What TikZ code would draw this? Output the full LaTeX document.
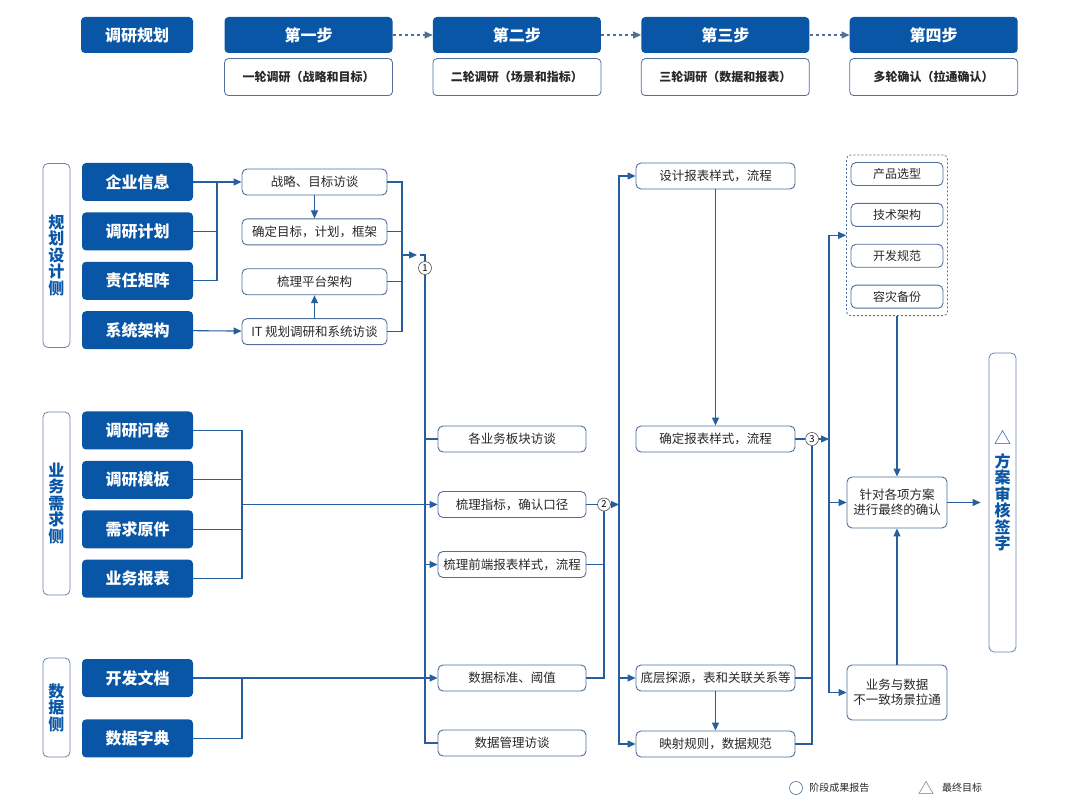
\documentclass[tikz,border=0pt]{standalone}
\usepackage{fontspec}
\setmainfont{Noto Sans CJK SC}
\usetikzlibrary{arrows.meta, positioning, fit}
\definecolor{deepblue}{RGB}{10,86,166}
\definecolor{linkblue}{RGB}{38,94,158}
\definecolor{edgeblue}{RGB}{80,112,155}
\definecolor{textgray}{RGB}{40,40,40}

\begin{document}
\begin{tikzpicture}[
    x=1pt, y=-1pt,
    node distance=11pt,
    darkbox/.style={rectangle, fill=deepblue, text=white, minimum width=111pt, minimum height=38pt, inner sep=2pt, rounded corners=4pt, font=\fontsize{16}{18}\selectfont\bfseries},
    stepbox/.style={darkbox, minimum width=168pt, minimum height=36pt},
    subbox/.style={rectangle, draw=edgeblue, fill=white, text=textgray, minimum width=168pt, minimum height=37pt, inner sep=2pt, rounded corners=4pt, line width=0.8pt, font=\fontsize{12}{14}\selectfont\bfseries},
    lightbox/.style={rectangle, draw=edgeblue, fill=white, text=textgray, minimum height=26pt, inner sep=2pt, rounded corners=5pt, line width=0.9pt, align=center, font=\fontsize{12.5}{15}\selectfont},
    sidebox/.style={rectangle, draw=edgeblue!85, text=deepblue, minimum width=27pt, inner sep=1pt, rounded corners=5pt, line width=0.8pt, align=center, font=\fontsize{16}{16.5}\selectfont\bfseries},
    stage/.style={circle, draw=textgray!80, fill=white, minimum size=13pt, inner sep=0pt, line width=0.6pt, font=\fontsize{9.5}{9.5}\selectfont},
    arrow/.style={-{Triangle[length=8pt,width=7pt]}, line width=1.1pt, linkblue},
    link/.style={line width=1.1pt, linkblue},
    dasharrow/.style={arrow, edgeblue, dash pattern=on 3pt off 3pt}
]

\fill[white] (0,0) rectangle (1080,810);
\useasboundingbox (0,0) rectangle (1080,810);

\node[darkbox, minimum width=112pt, minimum height=36pt] (plan) at (137,35) {调研规划};
\node[stepbox] (step1) at (308.5,35) {第一步};
\node[stepbox, right=40pt of step1] (step2) {第二步};
\node[stepbox, right=40pt of step2] (step3) {第三步};
\node[stepbox, right=40pt of step3] (step4) {第四步};
\node[subbox, below=5pt of step1] (round1) {一轮调研（战略和目标）};
\node[subbox, below=5pt of step2] (round2) {二轮调研（场景和指标）};
\node[subbox, below=5pt of step3] (round3) {三轮调研（数据和报表）};
\node[subbox, below=5pt of step4] (round4) {多轮确认（拉通确认）};

\node[darkbox] (qiye) at (137.5,182) {企业信息};
\node[darkbox, below=of qiye] (jihua) {调研计划};
\node[darkbox, below=of jihua] (juzhen) {责任矩阵};
\node[darkbox, below=of juzhen] (xitong) {系统架构};
\node[sidebox, minimum height=184pt] (guihua) at (56.5,255.5) {规\\划\\设\\计\\侧};

\node[darkbox] (wenjuan) at (137.5,430.5) {调研问卷};
\node[darkbox, below=of wenjuan] (muban) {调研模板};
\node[darkbox, below=of muban] (yuanjian) {需求原件};
\node[darkbox, below=of yuanjian] (baobiao) {业务报表};
\node[sidebox, minimum height=183pt] (xuqiu) at (56.5,503.5) {业\\务\\需\\求\\侧};

\node[darkbox] (kaifa) at (137.5,678) {开发文档};
\node[darkbox, below=22pt of kaifa] (zidian) {数据字典};
\node[sidebox, minimum height=99pt] (shuju) at (56.5,707.5) {数\\据\\侧};

\node[lightbox, minimum width=145pt] (zhanlue) at (314.5,182) {战略、目标访谈};
\node[lightbox, minimum width=145pt, below=23pt of zhanlue] (queding) {确定目标，计划，框架};
\node[lightbox, minimum width=145pt, below=23pt of queding] (pingtai) {梳理平台架构};
\node[lightbox, minimum width=145pt, below=23pt of pingtai] (itfw) {IT 规划调研和系统访谈};

\node[lightbox, minimum width=148pt] (bankuai) at (512,439) {各业务板块访谈};
\node[lightbox, minimum width=148pt] (zhibiao) at (512,504.5) {梳理指标，确认口径};
\node[lightbox, minimum width=148pt] (qianduan) at (512,564.5) {梳理前端报表样式，流程};
\node[lightbox, minimum width=148pt] (biaozhun) at (512,678) {数据标准、阈值};
\node[lightbox, minimum width=148pt] (guanli) at (512,743) {数据管理访谈};

\node[lightbox, minimum width=159pt] (sheji) at (715.5,176) {设计报表样式，流程};
\node[lightbox, minimum width=159pt] (shiyang) at (715.5,439) {确定报表样式，流程};
\node[lightbox, minimum width=159pt] (tanyuan) at (715.5,678) {底层探源，表和关联关系等};
\node[lightbox, minimum width=159pt] (yingshe) at (715.5,744) {映射规则，数据规范};

\node[lightbox, minimum width=92pt, minimum height=23pt, font=\fontsize{12}{14}\selectfont] (chanpin) at (897,174) {产品选型};
\node[lightbox, minimum width=92pt, minimum height=23pt, font=\fontsize{12}{14}\selectfont, below=17pt of chanpin] (jishu) {技术架构};
\node[lightbox, minimum width=92pt, minimum height=23pt, font=\fontsize{12}{14}\selectfont, below=17pt of jishu] (guifan) {开发规范};
\node[lightbox, minimum width=92pt, minimum height=23pt, font=\fontsize{12}{14}\selectfont, below=17pt of guifan] (zaibei) {容灾备份};
\node[draw=edgeblue, dash pattern=on 2pt off 2pt, rounded corners=4pt, line width=0.8pt, inner xsep=4pt, inner ysep=7pt, fit=(chanpin)(zaibei)] (xuanxing) {};

\node[lightbox, minimum width=100pt, minimum height=51pt] (zhendui) at (897,502.5) {针对各项方案\\进行最终的确认};
\node[lightbox, minimum width=100pt, minimum height=55pt] (butong) at (897,692.5) {业务与数据\\不一致场景拉通};
\node[sidebox, minimum height=299pt] (fangan) at (1002.5,502.5) {方\\案\\审\\核\\签\\字};
\node[text=deepblue, font=\fontsize{17}{17}\selectfont] (goal) at (1002.5,437) {△};

\node[stage] (c1) at (425,268) {1};
\node[stage] (c2) at (604,504.5) {2};
\node[stage] (c3) at (812,439) {3};

\coordinate (b1) at (217,182);
\coordinate (b2) at (402,182);
\coordinate (b3) at (242,430.5);
\coordinate (b4) at (242,678);
\coordinate (b5) at (619,504.5);
\coordinate (b6) at (829,439);
\coordinate (b7) at (420,255);
\coordinate (b8) at (425,255);

\draw[dasharrow] (step1) -- (step2);
\draw[dasharrow] (step2) -- (step3);
\draw[dasharrow] (step3) -- (step4);

\draw[arrow] (qiye) -- (zhanlue);
\draw[link] (jihua.east) -- (jihua.east -| b1);
\draw[link] (juzhen.east) -| (b1);
\draw[arrow] (xitong) -- (itfw);
\draw[arrow] (zhanlue) -- (queding);
\draw[arrow] (itfw) -- (pingtai);
\draw[link] (zhanlue.east) -- (b2) |- (itfw.east);
\draw[link] (queding.east) -- (queding.east -| b2);
\draw[link] (pingtai.east) -- (pingtai.east -| b2);
\draw[arrow, shorten >=3pt] (b2 |- b7) -- (b7);
\draw[link] (b7) -- (b8) -- (c1.north);
\draw[link] (c1.south) |- (guanli.west);
\draw[link] (bankuai.west) -- (bankuai.west -| c1);
\draw[arrow] (qianduan.west -| c1) -- (qianduan.west);

\draw[link] (wenjuan.east) -- (b3);
\draw[link] (muban.east) -- (muban.east -| b3);
\draw[link] (yuanjian.east) -- (yuanjian.east -| b3);
\draw[link] (baobiao.east) -| (b3);
\draw[arrow] (zhibiao.west -| b3) -- (zhibiao.west);
\draw[arrow] (kaifa) -- (biaozhun);
\draw[link] (zidian.east) -| (b4);

\draw[link] (zhibiao.east) -- (c2.west);
\draw[link] (qianduan.east) -- (qianduan.east -| c2);
\draw[link] (biaozhun.east) -| (c2.south);
\draw[arrow] (c2.east) -- (b5);
\draw[arrow] (b5) |- (sheji.west);
\draw[arrow] (b5) |- (yingshe.west);
\draw[arrow] (tanyuan.west -| b5) -- (tanyuan.west);
\draw[arrow] (sheji) -- (shiyang);
\draw[arrow] (tanyuan) -- (yingshe);

\draw[link] (shiyang.east) -- (c3.west);
\draw[link] (tanyuan.east) -- (tanyuan.east -| c3);
\draw[link] (yingshe.east) -| (c3.south);
\draw[arrow] (c3.east) -- (b6);
\draw[arrow] (b6) |- (xuanxing.west);
\draw[arrow] (b6) |- (butong.west);
\draw[arrow] (zhendui.west -| b6) -- (zhendui.west);
\draw[arrow] (xuanxing) -- (zhendui);
\draw[arrow] (butong) -- (zhendui);
\draw[arrow, shorten >=8pt] (zhendui) -- (fangan);

\node[stage, minimum size=13pt, draw=edgeblue] (legcircle) at (796,788) {};
\node[text=textgray, font=\fontsize{10}{10}\selectfont, right=3pt of legcircle] (legstage) {阶段成果报告};
\node[text=edgeblue, font=\fontsize{16}{16}\selectfont] (legtri) at (926,788) {△};
\node[text=textgray, font=\fontsize{10}{10}\selectfont, right=1pt of legtri] (leggoal) {最终目标};

\end{tikzpicture}
\end{document}
